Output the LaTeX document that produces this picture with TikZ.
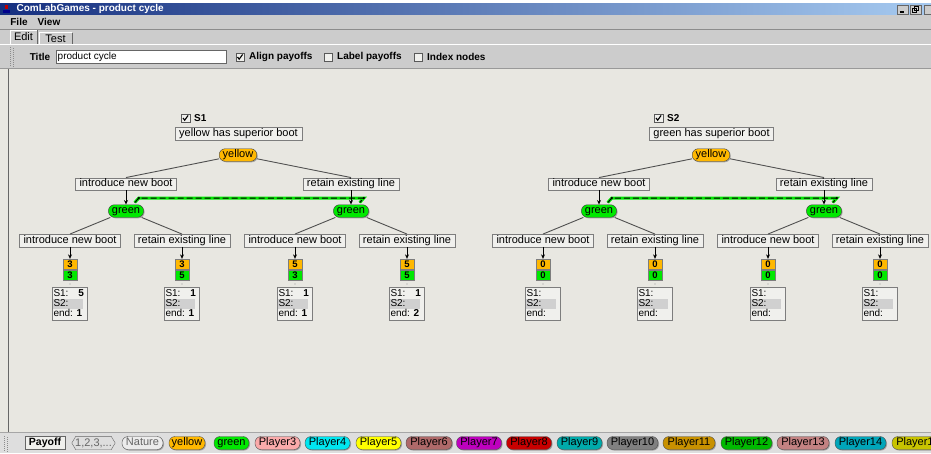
\documentclass[tikz,border=0pt]{standalone}
\usepackage{fontspec}
\setmainfont{Liberation Sans}
\usetikzlibrary{positioning, shadows, arrows.meta}

\definecolor{canvasbg}{RGB}{232,231,225}
\definecolor{panelgray}{RGB}{204,204,204}
\definecolor{barbg}{RGB}{222,222,222}
\definecolor{titleleft}{RGB}{22,48,128}
\definecolor{titleright}{RGB}{166,202,240}
\definecolor{boxline}{RGB}{125,125,125}
\definecolor{boxfill}{RGB}{240,240,237}
\definecolor{rowgray}{RGB}{208,208,208}
\definecolor{edgegray}{RGB}{80,80,80}
\definecolor{pyellow}{RGB}{255,184,0}
\definecolor{pgreen}{RGB}{0,232,0}
\definecolor{natfill}{RGB}{236,236,236}
\definecolor{pthree}{RGB}{250,170,170}
\definecolor{pfour}{RGB}{0,230,240}
\definecolor{pfive}{RGB}{255,255,0}
\definecolor{psix}{RGB}{175,105,105}
\definecolor{pseven}{RGB}{190,0,190}
\definecolor{peight}{RGB}{200,0,0}
\definecolor{pnine}{RGB}{0,170,170}
\definecolor{pten}{RGB}{128,128,128}
\definecolor{peleven}{RGB}{200,145,0}
\definecolor{ptwelve}{RGB}{0,185,0}
\definecolor{pthirteen}{RGB}{195,130,130}
\definecolor{pfourteen}{RGB}{0,165,185}
\definecolor{pfifteen}{RGB}{200,195,0}

\tikzset{
  every node/.style={font=\fontsize{11}{13}\selectfont},
  move/.style={draw=boxline, fill=boxfill, inner xsep=4pt, inner ysep=0pt,
    minimum height=12.5pt, text height=8pt, text depth=2.3pt},
  player/.style={draw=black!75, rounded corners=6pt, inner xsep=3.5pt, inner ysep=0pt,
    minimum height=12.5pt, text height=8pt, text depth=2.3pt,
    drop shadow={shadow xshift=1pt, shadow yshift=-1pt, fill=black!60}},
  pay/.style={draw=boxline, minimum width=14pt, minimum height=10.5pt, inner sep=0pt,
    font=\fontsize{9.5}{10}\bfseries},
  pdot/.style={circle, fill=black!40, minimum size=1.2pt, inner sep=0pt},
  info/.style={draw=boxline, fill=boxfill, minimum width=35pt, minimum height=33pt, inner sep=0pt},
  infotext/.style={inner sep=0.5pt, text height=7pt, text depth=2pt, font=\fontsize{10}{11}\selectfont},
  branch/.style={draw=edgegray, line width=0.9pt},
  choice/.style={draw=black, line width=0.8pt, -{Stealth[length=4.5pt,width=4pt]}},
  infoset/.style={draw=black, line width=0.9pt, dash pattern=on 6pt off 3pt,
    preaction={draw=pgreen, line width=3pt, solid}},
  checkbox/.style={draw=black!65, fill=boxfill, minimum size=8.5pt, inner sep=0pt},
  checkmark/.style={draw=black, line width=1.1pt},
  uilabel/.style={font=\fontsize{10}{12}\bfseries, inner xsep=1pt},
  menutext/.style={font=\fontsize{10}{12}\bfseries},
  wintitle/.style={text=white, font=\fontsize{10}{12}\bfseries},
  winbtn/.style={draw=black!60, fill=panelgray, minimum width=11pt, minimum height=9pt, inner sep=0pt},
  gripdots/.style={draw=black!45, line width=1pt, dash pattern=on 1pt off 1pt},
  swatch/.style={draw=black!70, rounded corners=6pt, minimum height=13pt, inner sep=0pt,
    text height=8pt, text depth=2.3pt,
    drop shadow={shadow xshift=1pt, shadow yshift=-1pt, fill=black!60}},
}

% payoff pair under a terminal move
\newcommand{\payoffbox}[4]{%
  \node[pay, fill=pyellow] (#1a) at (#2,264.3) {#3};
  \node[pay, fill=pgreen, below=0pt of #1a] (#1b) {#4};
  \node[pdot] (#1d) at (#2,284) {};
}
% S1 / S2 / end box
\newcommand{\infobox}[4]{%
  \node[info] (#1) at (#2,303.5) {};
  \fill[rowgray] ([xshift=1pt,yshift=5pt]#1.west) rectangle ([xshift=-4pt,yshift=-5pt]#1.east);
  \node[infotext, anchor=west] (#1s1) at ([xshift=1pt,yshift=10pt]#1.west) {S1:};
  \node[infotext, anchor=east] (#1v) at ([xshift=-2.5pt,yshift=10pt]#1.east) {\bfseries #3};
  \node[infotext, anchor=west] (#1s2) at ([xshift=1pt]#1.west) {S2:};
  \node[infotext, anchor=west] (#1end) at ([xshift=1pt,yshift=-10pt]#1.west) {end: \textbf{#4}};
}

\begin{document}
\begin{tikzpicture}[x=1pt, y=-1pt]
  \useasboundingbox (0,0) rectangle (931,453);
  \clip (0,0) rectangle (931,453);

  % window frame
  \fill[white] (0,0) rectangle (931,3);
  \shade[left color=titleleft, right color=titleright] (0,3) rectangle (931,15);
  \fill[panelgray] (0,15) rectangle (931,68);
  \fill[canvasbg] (0,68) rectangle (931,432);
  \fill[barbg] (0,432) rectangle (931,453);
  \draw[black!45] (0,29) -- (931,29);
  \draw[white] (0,44.5) -- (931,44.5);
  \draw[black!40] (0,68) -- (931,68);
  \draw[black!60] (8,69) -- (8,432);
  \draw[black!35] (0,432) -- (931,432);

  % title bar
  \fill[red!75!black] (4.5,5) rectangle (7.5,9);
  \fill[blue!55!black] (3,10) rectangle (10,12.5);
  \node[wintitle, anchor=west] (apptitle) at (13,9) {ComLabGames - product cycle};
  \node[winbtn] (minbtn) at (902.5,9.5) {};
  \draw[line width=1.2pt] ([xshift=-3pt,yshift=-2.5pt]minbtn.center) -- ([xshift=1.5pt,yshift=-2.5pt]minbtn.center);
  \node[winbtn] (maxbtn) at (915.5,9.5) {};
  \draw (912.5,8.5) rectangle (916.5,12.5);
  \draw (914.5,6.5) rectangle (918.5,10.5);
  \node[winbtn] (closebtn) at (929.5,9.5) {};

  % menu, tabs and toolbar
  \node[menutext] (filemenu) at (19,22) {File};
  \node[menutext] (viewmenu) at (49,22) {View};
  \draw[white] (10,44) -- (10,30) -- (37,30);
  \draw[black!60] (37,30) -- (37,44);
  \node (edittab) at (23.5,37) {Edit};
  \draw[white] (39,44) -- (39,32.5) -- (72,32.5);
  \draw[black!60] (72,32.5) -- (72,44);
  \node (testtab) at (55.5,38.5) {Test};
  \draw[gripdots] (10,47) -- (10,66);
  \draw[gripdots] (13,48) -- (13,67);
  \node[uilabel] (titlelabel) at (40,57) {Title};
  \node[draw=black!60, fill=white, minimum width=170pt, minimum height=13pt, anchor=west] (titlefield) at (55.5,56.5) {};
  \node[anchor=west, inner xsep=2pt, font=\fontsize{10}{12}\selectfont] (titletext) at (titlefield.west) {product cycle};
  \node[checkbox] (cbalign) at (240,57) {};
  \draw[checkmark] ([xshift=-2.5pt]cbalign.center) -- ([xshift=-0.8pt,yshift=-2.2pt]cbalign.center) -- ([xshift=2.6pt,yshift=2.6pt]cbalign.center);
  \node[uilabel, anchor=west] (alignlabel) at (248,57) {Align payoffs};
  \node[checkbox] (cblabel) at (328,57) {};
  \node[uilabel, anchor=west] (labellabel) at (336,57) {Label payoffs};
  \node[checkbox] (cbindex) at (418,57) {};
  \node[uilabel, anchor=west] (indexlabel) at (426,57) {Index nodes};

  % tree S1
  \node[checkbox] (cbs1) at (185.5,118) {};
  \draw[checkmark] ([xshift=-2.5pt]cbs1.center) -- ([xshift=-0.8pt,yshift=-2.2pt]cbs1.center) -- ([xshift=2.6pt,yshift=2.6pt]cbs1.center);
  \node[uilabel, anchor=west] (s1label) at (193,118) {S1};
  \node[move] (head1) at (238.5,133.5) {yellow has superior boot};
  \node[player, fill=pyellow] (y1) at (238,155) {yellow};
  \node[move] (a1) at (126,184) {introduce new boot};
  \node[move] (b1) at (351,184) {retain existing line};
  \node[player, fill=pgreen] (g1) at (126,211) {green};
  \node[player, fill=pgreen] (g2) at (351,211) {green};
  \node[move] (c1) at (70,240.5) {introduce new boot};
  \node[move] (c2) at (182,240.5) {retain existing line};
  \node[move] (c3) at (295,240.5) {introduce new boot};
  \node[move] (c4) at (407,240.5) {retain existing line};
  \payoffbox{p1}{70}{3}{3}
  \payoffbox{p2}{182}{3}{5}
  \payoffbox{p3}{295}{5}{3}
  \payoffbox{p4}{407}{5}{5}
  \infobox{i1}{69.5}{5}{1}
  \infobox{i2}{181.5}{1}{1}
  \infobox{i3}{294.5}{1}{1}
  \infobox{i4}{406.5}{1}{2}

  \path[branch] (y1) edge (a1.north) edge (b1.north);
  \path[branch] (g1) edge (c1.north) edge (c2.north);
  \path[branch] (g2) edge (c3.north) edge (c4.north);
  \coordinate (s1l) at ([xshift=-5pt,yshift=6.5pt]g1.north east);
  \coordinate (s1r) at ([xshift=-5pt,yshift=6.5pt]g2.north east);
  \draw[infoset] ([xshift=-9pt,yshift=2pt]g1.north east) -- (s1l) -- (s1r) -- ([xshift=-9pt,yshift=2pt]g2.north east);
  \fill (s1l) circle (1.3);
  \fill (s1r) circle (1.3);
  \path[choice] (a1) edge (g1) (b1) edge (g2);
  \path[choice] (c1) edge (p1a) (c2) edge (p2a) (c3) edge (p3a) (c4) edge (p4a);

  % tree S2
  \node[checkbox] (cbs2) at (658.5,118) {};
  \draw[checkmark] ([xshift=-2.5pt]cbs2.center) -- ([xshift=-0.8pt,yshift=-2.2pt]cbs2.center) -- ([xshift=2.6pt,yshift=2.6pt]cbs2.center);
  \node[uilabel, anchor=west] (s2label) at (666,118) {S2};
  \node[move] (head2) at (711.5,133.5) {green has superior boot};
  \node[player, fill=pyellow] (y2) at (711,155) {yellow};
  \node[move] (a2) at (599,184) {introduce new boot};
  \node[move] (b2) at (824,184) {retain existing line};
  \node[player, fill=pgreen] (g3) at (599,211) {green};
  \node[player, fill=pgreen] (g4) at (824,211) {green};
  \node[move] (c5) at (543,240.5) {introduce new boot};
  \node[move] (c6) at (655,240.5) {retain existing line};
  \node[move] (c7) at (768,240.5) {introduce new boot};
  \node[move] (c8) at (880,240.5) {retain existing line};
  \payoffbox{p5}{543}{0}{0}
  \payoffbox{p6}{655}{0}{0}
  \payoffbox{p7}{768}{0}{0}
  \payoffbox{p8}{880}{0}{0}
  \infobox{i5}{542.5}{}{}
  \infobox{i6}{654.5}{}{}
  \infobox{i7}{767.5}{}{}
  \infobox{i8}{879.5}{}{}

  \path[branch] (y2) edge (a2.north) edge (b2.north);
  \path[branch] (g3) edge (c5.north) edge (c6.north);
  \path[branch] (g4) edge (c7.north) edge (c8.north);
  \coordinate (s2l) at ([xshift=-5pt,yshift=6.5pt]g3.north east);
  \coordinate (s2r) at ([xshift=-5pt,yshift=6.5pt]g4.north east);
  \draw[infoset] ([xshift=-9pt,yshift=2pt]g3.north east) -- (s2l) -- (s2r) -- ([xshift=-9pt,yshift=2pt]g4.north east);
  \fill (s2l) circle (1.3);
  \fill (s2r) circle (1.3);
  \path[choice] (a2) edge (g3) (b2) edge (g4);
  \path[choice] (c5) edge (p5a) (c6) edge (p6a) (c7) edge (p7a) (c8) edge (p8a);

  % player palette
  \draw[gripdots] (4,436) -- (4,451);
  \draw[gripdots] (7,437) -- (7,452);
  \node[draw=black!60, fill=boxfill, minimum width=40pt, minimum height=13pt, inner sep=0pt,
    font=\fontsize{10.5}{12}\bfseries] (palpay) at (45,443) {Payoff};
  \node[minimum width=43pt, minimum height=13pt, inner sep=0pt, text=black!60] (palrange) at (93.5,443) {1,2,3,...};
  \draw[black!60] (palrange.west) -- ([xshift=4pt]palrange.north west) -- ([xshift=-4pt]palrange.north east)
    -- (palrange.east) -- ([xshift=-4pt]palrange.south east) -- ([xshift=4pt]palrange.south west) -- cycle;
  \node[swatch, fill=natfill, text=black!60, minimum width=41pt] (palnature) at (142.5,443) {Nature};
  \node[swatch, fill=pyellow, minimum width=36pt] (palyellow) at (187,443) {yellow};
  \node[swatch, fill=pgreen, minimum width=35pt] (palgreen) at (231.5,443) {green};
  \node[swatch, fill=pthree, minimum width=45pt] (pal3) at (277.5,443) {Player3};
  \node[swatch, fill=pfour, minimum width=45pt] (pal4) at (327.5,443) {Player4};
  \node[swatch, fill=pfive, minimum width=45pt] (pal5) at (378.5,443) {Player5};
  \node[swatch, fill=psix, minimum width=46pt] (pal6) at (429,443) {Player6};
  \node[swatch, fill=pseven, minimum width=45pt] (pal7) at (479,443) {Player7};
  \node[swatch, fill=peight, minimum width=45pt] (pal8) at (529,443) {Player8};
  \node[swatch, fill=pnine, minimum width=45pt] (pal9) at (579.5,443) {Player9};
  \node[swatch, fill=pten, minimum width=51pt] (pal10) at (632.5,443) {Player10};
  \node[swatch, fill=peleven, minimum width=52pt] (pal11) at (689,443) {Player11};
  \node[swatch, fill=ptwelve, minimum width=51pt] (pal12) at (746.5,443) {Player12};
  \node[swatch, fill=pthirteen, minimum width=52pt] (pal13) at (803,443) {Player13};
  \node[swatch, fill=pfourteen, minimum width=51pt] (pal14) at (860.5,443) {Player14};
  \node[swatch, fill=pfifteen, minimum width=52pt] (pal15) at (918,443) {Player15};
\end{tikzpicture}
\end{document}
